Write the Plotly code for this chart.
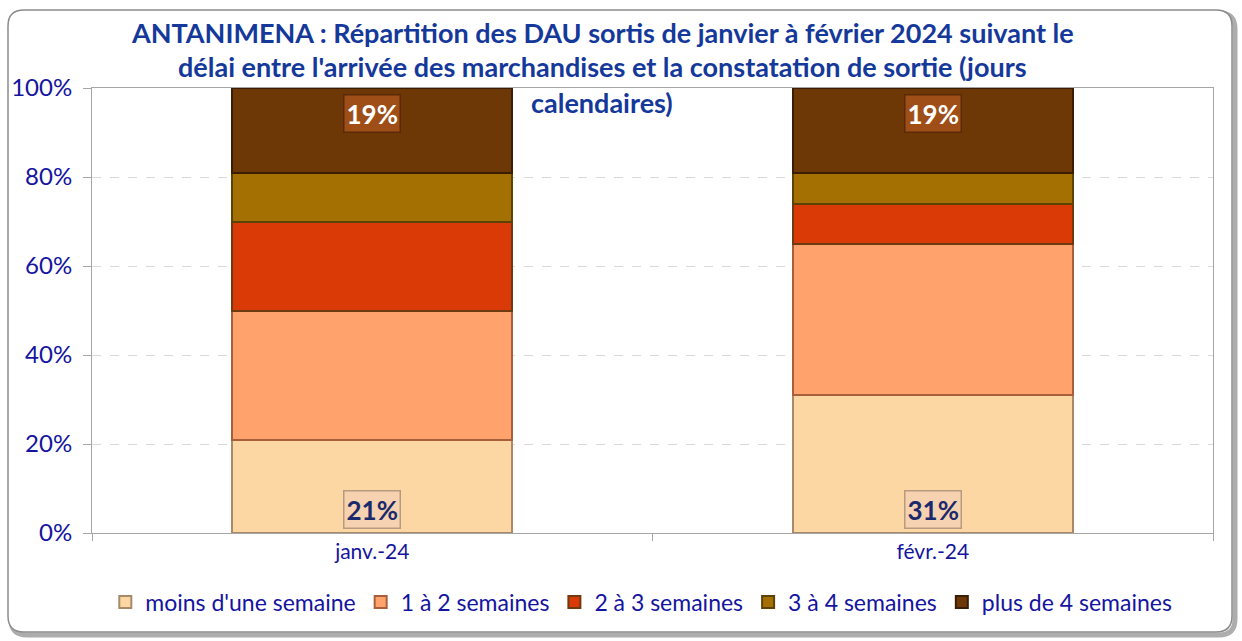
import plotly.graph_objects as go

categories = ["janv.-24", "févr.-24"]
series_names = ["moins d'une semaine", "1 à 2 semaines", "2 à 3 semaines", "3 à 4 semaines", "plus de 4 semaines"]
moins_une_semaine = [21, 31]
un_a_deux = [29, 34]
deux_a_trois = [20, 9]
trois_a_quatre = [11, 7]
plus_de_quatre = [19, 19]
y_ticks = [0, 20, 40, 60, 80, 100]
y_tick_labels = ["0%", "20%", "40%", "60%", "80%", "100%"]

series_values = [moins_une_semaine, un_a_deux, deux_a_trois, trois_a_quatre, plus_de_quatre]
colors = ["#FDD7A3", "#FFA26C", "#DA3A06", "#A47002", "#6E3806"]
edge_colors = ["#A88A6A", "#A8603C", "#6E3A10", "#5C4204", "#3A1E04"]

FONT = "Lato"
TITLE_COLOR = "#15399A"
TICK_COLOR = "#1414A0"

fig = go.Figure()
for name, vals, c, ec in zip(series_names, series_values, colors, edge_colors):
    fig.add_trace(go.Bar(
        x=categories, y=vals, name=name,
        marker=dict(color=c, line=dict(color=ec, width=2)),
        hoverinfo="skip",
    ))

# Data labels: bottom series and top series
totals = [sum(v[i] for v in series_values) for i in range(len(categories))]
annotations = []
for i, cat in enumerate(categories):
    annotations.append(dict(
        x=cat, y=0, xref="x", yref="y", yanchor="bottom", yshift=4,
        text="<b>%d%%</b>" % moins_une_semaine[i], showarrow=False,
        font=dict(family=FONT, size=26, color="#1A2A6C"),
        bgcolor="#F7D2B0", bordercolor="#B89A80", borderwidth=1.5, borderpad=2,
    ))
    annotations.append(dict(
        x=cat, y=totals[i], xref="x", yref="y", yanchor="top", yshift=-6,
        text="<b>%d%%</b>" % plus_de_quatre[i], showarrow=False,
        font=dict(family=FONT, size=26, color="#FFFFFF"),
        bgcolor="#9E4E16", bordercolor="#5A2A08", borderwidth=1.5, borderpad=2,
    ))

title_lines = [
    "ANTANIMENA : Répartition des DAU sortis de janvier à février 2024 suivant le",
    "délai entre l'arrivée des marchandises et la constatation de sortie (jours",
    "calendaires)",
]
title_y = [1.1258, 1.0472, 0.9663]
for t, yy in zip(title_lines, title_y):
    annotations.append(dict(
        x=0.455, y=yy, xref="paper", yref="paper", xanchor="center", yanchor="middle",
        text="<b>%s</b>" % t, showarrow=False,
        font=dict(family=FONT, size=27, color=TITLE_COLOR),
    ))

# Rounded frame with shadow (paper coordinates)
W, H = 1121.0, 445.0
L, T = 92.0, 88.0
def px(x):
    return (x - L) / W
def py(y):
    return (T + H - y) / H
def rounded(x0, y0, x1, y1, r):
    return ("M %f,%f L %f,%f Q %f,%f %f,%f L %f,%f Q %f,%f %f,%f "
            "L %f,%f Q %f,%f %f,%f L %f,%f Q %f,%f %f,%f Z") % (
        px(x0 + r), py(y0), px(x1 - r), py(y0), px(x1), py(y0), px(x1), py(y0 + r),
        px(x1), py(y1 - r), px(x1), py(y1), px(x1 - r), py(y1),
        px(x0 + r), py(y1), px(x0), py(y1), px(x0), py(y1 - r),
        px(x0), py(y0 + r), px(x0), py(y0), px(x0 + r), py(y0))

shapes = [
    dict(type="path", xref="paper", yref="paper", path=rounded(11, 13, 1235, 635, 16),
         line=dict(color="#ADADAD", width=5), layer="below"),
    dict(type="path", xref="paper", yref="paper", path=rounded(8, 10, 1232, 632, 16),
         line=dict(color="#8C8C8C", width=1.5), fillcolor="white", layer="below"),
]

fig.update_layout(
    width=1242, height=641,
    barmode="stack", bargap=0.5,
    paper_bgcolor="white", plot_bgcolor="rgba(0,0,0,0)",
    margin=dict(l=92, r=29, t=88, b=108),
    showlegend=True,
    legend=dict(orientation="h", x=0.49, xanchor="center", y=-0.155, yanchor="middle",
                font=dict(family=FONT, size=23, color=TICK_COLOR),
                itemsizing="constant", traceorder="normal", itemwidth=30),
    annotations=annotations,
    shapes=shapes,
    font=dict(family=FONT),
)
fig.update_yaxes(
    range=[0, 100], tickvals=y_ticks, ticktext=y_tick_labels,
    tickfont=dict(family=FONT, size=24, color=TICK_COLOR),
    showgrid=True, gridcolor="#D9D9D9", griddash="dash", gridwidth=1,
    showline=True, linecolor="#A6A6A6", linewidth=1, mirror=True,
    ticks="outside", ticklen=8, tickcolor="#A6A6A6", ticklabelstandoff=6,
    zeroline=False, fixedrange=True,
)
fig.update_xaxes(
    tickfont=dict(family=FONT, size=21, color=TICK_COLOR),
    showline=True, linecolor="#A6A6A6", linewidth=1, mirror=True,
    ticks="outside", ticklen=7, tickcolor="#A6A6A6", tickson="boundaries",
    fixedrange=True,
)

fig.write_html("out.html", config={"displayModeBar": False},
               post_script="document.body.style.margin='0px';")
